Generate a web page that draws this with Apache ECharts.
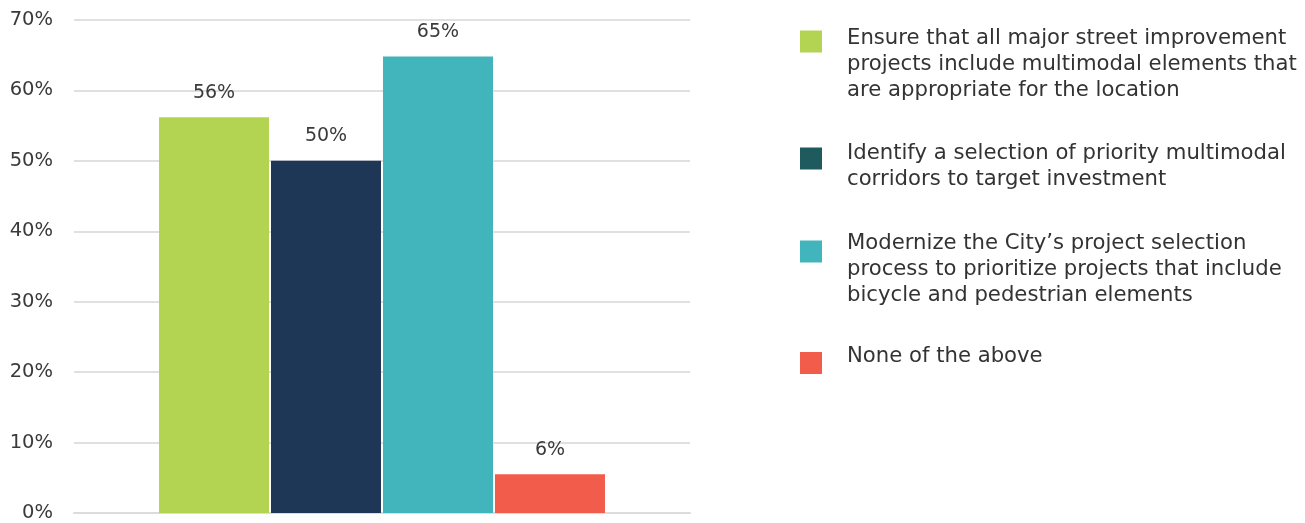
<!DOCTYPE html>
<html>
<head>
<meta charset="utf-8">
<script src="https://cdn.jsdelivr.net/npm/echarts@6/dist/echarts.min.js"></script>
<style>
  html, body { margin: 0; padding: 0; background: #fff; }
  #chart { width: 1305px; height: 523px; }
</style>
</head>
<body>
<div id="chart"></div>
<script>
// Survey options and the share of respondents choosing each
const optionNames = [
  'Ensure that all major street improvement projects include multimodal elements that are appropriate for the location',
  'Identify a selection of priority multimodal corridors to target investment',
  'Modernize the City\u2019s project selection process to prioritize projects that include bicycle and pedestrian elements',
  'None of the above'
];
// Wrapped legend text, one entry per option
const legendLines = [
  ['Ensure that all major street improvement', 'projects include multimodal elements that', 'are appropriate for the location'],
  ['Identify a selection of priority multimodal', 'corridors to target investment'],
  ['Modernize the City\u2019s project selection', 'process to prioritize projects that include', 'bicycle and pedestrian elements'],
  ['None of the above']
];
const shares = [56.2, 50, 64.8, 5.5];
const barColors = ['#B3D353', '#1E3756', '#42B4BC', '#F25C4A'];
const legendColors = ['#B3D353', '#1F5A5E', '#42B4BC', '#F25C4A'];
const yTicks = [0, 10, 20, 30, 40, 50, 60, 70];

const FONT = 'DejaVu Sans';
const chart = echarts.init(document.getElementById('chart'), null, { renderer: 'canvas' });

const series = optionNames.map((name, i) => ({
  name: name,
  type: 'bar',
  data: [shares[i]],
  barWidth: 110,
  barGap: '1.8%',
  itemStyle: { color: barColors[i] },
  label: {
    show: true,
    position: 'top',
    distance: 15,
    color: '#3a3a3a',
    fontFamily: FONT,
    fontSize: 19,
    formatter: p => Math.round(p.value) + '%'
  }
}));

// One legend block per option; a spacer line above (or below) the text
// shifts it against its swatch
const legendLayout = [
  { top: 2, before: 46, after: 0 },
  { top: 132, before: 15, after: 0 },
  { top: 212, before: 35, after: 0 },
  { top: 346, before: 0, after: 13 }
];
const legends = optionNames.map((name, i) => {
  const lay = legendLayout[i];
  const parts = [];
  if (lay.before) parts.push('{s| }');
  legendLines[i].forEach(l => parts.push('{t|' + l + '}'));
  if (lay.after) parts.push('{e| }');
  return {
    left: 800,
    top: lay.top,
    padding: 0,
    orient: 'vertical',
    itemWidth: 22,
    itemHeight: 22,
    selectedMode: false,
    icon: 'rect',
    data: [{ name: name, itemStyle: { color: legendColors[i] } }],
    formatter: () => parts.join('\n'),
    textStyle: {
      fontFamily: FONT,
      fontSize: 21.2,
      color: '#333333',
      rich: {
        t: { fontFamily: FONT, fontSize: 21.2, lineHeight: 26, color: '#333333', padding: [0, 0, 0, 20] },
        s: { fontSize: 1, lineHeight: lay.before || 1 },
        e: { fontSize: 1, lineHeight: lay.after || 1 }
      }
    }
  };
});

chart.setOption({
  animation: false,
  backgroundColor: '#ffffff',
  grid: { left: 74, right: 615, top: 20, bottom: 8, containLabel: false },
  legend: legends,
  xAxis: {
    type: 'category',
    data: [''],
    axisTick: { show: false },
    axisLabel: { show: false },
    axisLine: { show: true, lineStyle: { color: '#dcdcdc', width: 2 } }
  },
  yAxis: {
    type: 'value',
    min: yTicks[0],
    max: yTicks[yTicks.length - 1],
    interval: 10,
    axisLine: { show: false },
    axisTick: { show: false },
    splitLine: { show: true, lineStyle: { color: '#e0e0e0', width: 2 } },
    axisLabel: {
      margin: 21,
      color: '#3a3a3a',
      fontFamily: FONT,
      fontSize: 19.5,
      formatter: v => v + '%'
    }
  },
  series: series
});
</script>
</body>
</html>
